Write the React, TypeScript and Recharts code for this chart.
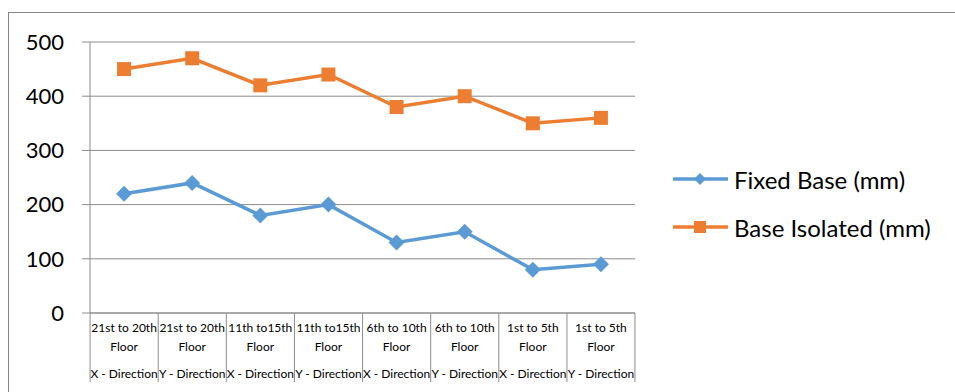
import React from "react";
import { LineChart, Line, XAxis, YAxis, CartesianGrid } from "recharts";

const floors = [
  "21st to 20th",
  "21st to 20th",
  "11th to15th",
  "11th to15th",
  "6th to 10th",
  "6th to 10th",
  "1st to 5th",
  "1st to 5th",
];
const directions = [
  "X - Direction",
  "Y - Direction",
  "X - Direction",
  "Y - Direction",
  "X - Direction",
  "Y - Direction",
  "X - Direction",
  "Y - Direction",
];
const fixedBase = [220, 240, 180, 200, 130, 150, 80, 90];
const baseIsolated = [450, 470, 420, 440, 380, 400, 350, 360];
const yTicks = [0, 100, 200, 300, 400, 500];

const data = floors.map((f, i) => ({
  name: `${f} Floor ${directions[i]}`,
  fixed: fixedBase[i],
  isolated: baseIsolated[i],
}));

const BLUE = "#5B9BD5";
const ORANGE = "#ED7D31";
const GRID = "#8c8c8c";
const FONT = "Lato, 'Open Sans', sans-serif";
const BAND = 68;

const Diamond = ({ cx, cy, fill, size = 8 }: any) => {
  if (cx == null || cy == null) return null;
  return (
    <polygon
      points={`${cx},${cy - size} ${cx + size},${cy} ${cx},${cy + size} ${cx - size},${cy}`}
      fill={fill}
    />
  );
};

const Square = ({ cx, cy, fill, size = 7 }: any) => {
  if (cx == null || cy == null) return null;
  return <rect x={cx - size} y={cy - size} width={size * 2} height={size * 2} fill={fill} />;
};

// category box: floor label on two lines, direction below, dividers between
const CategoryTick = ({ x, y, index }: any) => {
  const left = x - BAND / 2;
  const last = index === floors.length - 1;
  return (
    <g>
      <line x1={left} y1={y} x2={left} y2={y + 69} stroke={GRID} strokeWidth={1} />
      {last && (
        <line x1={left + BAND} y1={y} x2={left + BAND} y2={y + 69} stroke={GRID} strokeWidth={1} />
      )}
      <text x={x} y={y + 19} textAnchor="middle" fontSize={12} fill="#000" fontFamily={FONT}>
        {floors[index]}
      </text>
      <text x={x} y={y + 38} textAnchor="middle" fontSize={12} fill="#000" fontFamily={FONT}>
        Floor
      </text>
      <text x={x} y={y + 65} textAnchor="middle" fontSize={12} fill="#000" fontFamily={FONT}>
        {directions[index]}
      </text>
    </g>
  );
};

const legendItems = [
  { label: "Fixed Base (mm)", color: BLUE, shape: "diamond" },
  { label: "Base Isolated (mm)", color: ORANGE, shape: "square" },
];

export default function App() {
  return (
    <div
      style={{
        position: "fixed",
        left: 8,
        top: 12,
        width: 960,
        height: 400,
        border: "1px solid #868686",
        overflow: "hidden",
        background: "#fff",
      }}
    >
      <LineChart
        width={946}
        height={379}
        data={data}
        margin={{ top: 29, right: 320, bottom: 9, left: 0 }}
      >
        <CartesianGrid vertical={false} stroke={GRID} strokeWidth={1} />
        <XAxis
          dataKey="name"
          scale="band"
          interval={0}
          height={70}
          tickLine={false}
          tickSize={0}
          tickMargin={0}
          axisLine={{ stroke: GRID }}
          tick={<CategoryTick />}
        />
        <YAxis
          width={81}
          domain={[0, 500]}
          ticks={yTicks}
          interval={0}
          tickSize={8}
          tickMargin={18}
          tickLine={{ stroke: GRID }}
          axisLine={{ stroke: GRID }}
          tick={{ fontSize: 22, fill: "#000", fontFamily: FONT }}
        />
        <Line
          type="linear"
          dataKey="fixed"
          stroke={BLUE}
          strokeWidth={3.5}
          dot={<Diamond fill={BLUE} size={8} />}
          activeDot={false}
          isAnimationActive={false}
        />
        <Line
          type="linear"
          dataKey="isolated"
          stroke={ORANGE}
          strokeWidth={3.5}
          dot={<Square fill={ORANGE} size={7} />}
          activeDot={false}
          isAnimationActive={false}
        />
      </LineChart>
      <div style={{ position: "absolute", left: 663, top: 142, fontFamily: FONT }}>
        {legendItems.map((it) => (
          <div key={it.label} style={{ display: "flex", alignItems: "center", height: 48 }}>
            <svg width={62} height={20}>
              <line x1={1} y1={10} x2={56} y2={10} stroke={it.color} strokeWidth={3.5} />
              {it.shape === "diamond" ? (
                <Diamond cx={28} cy={10} fill={it.color} size={6} />
              ) : (
                <Square cx={28} cy={10} fill={it.color} size={6} />
              )}
            </svg>
            <span style={{ fontSize: 24, color: "#000" }}>{it.label}</span>
          </div>
        ))}
      </div>
    </div>
  );
}
